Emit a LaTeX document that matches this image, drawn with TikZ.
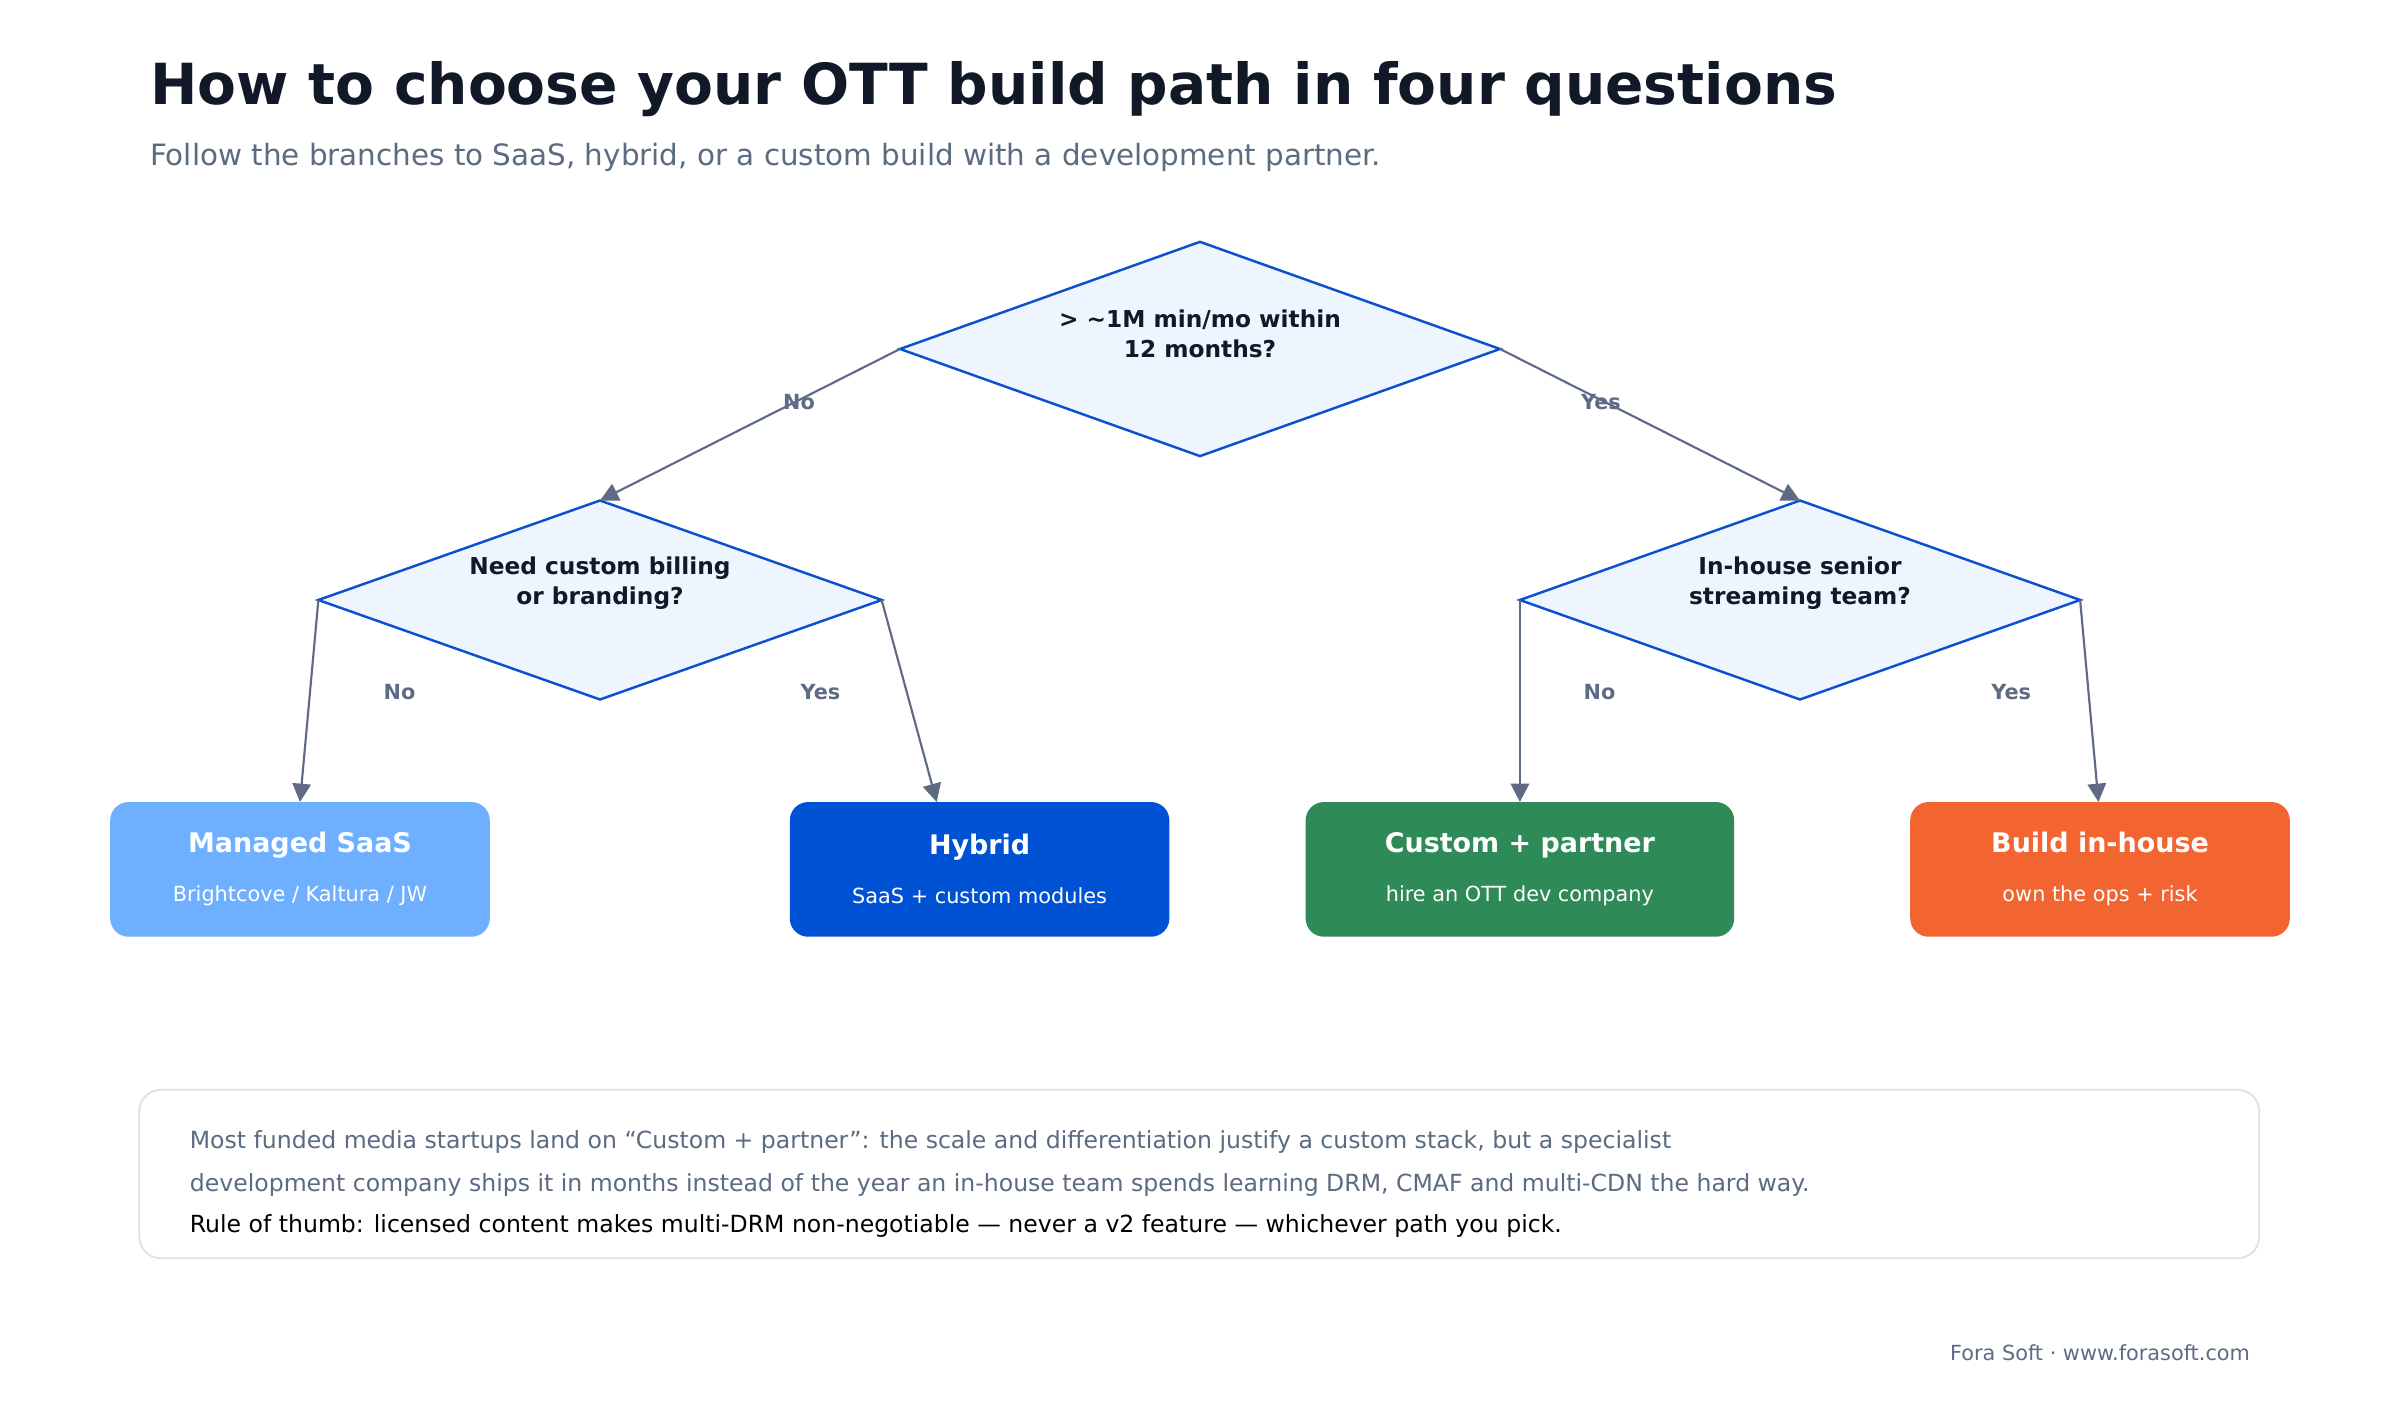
\documentclass[tikz,border=0pt]{standalone}
\usepackage{fontspec}
\setmainfont{DejaVu Sans}
\usetikzlibrary{arrows.meta}
\definecolor{ttl}{HTML}{111827}
\definecolor{sub}{HTML}{5B6B82}
\definecolor{dfill}{HTML}{EEF5FF}
\definecolor{dline}{HTML}{0B50D0}
\definecolor{arr}{HTML}{5F6B85}
\definecolor{cA}{HTML}{6EB0FF}
\definecolor{cB}{HTML}{0052D4}
\definecolor{cC}{HTML}{2E8B57}
\definecolor{cD}{HTML}{F26531}
\definecolor{nb}{HTML}{DDE1EA}
\begin{document}
\begin{tikzpicture}[x=0.5pt,y=-0.5pt,
  dia/.style={fill=dfill,draw=dline,line width=0.8pt},
  qtext/.style={font=\bfseries\fontsize{7.6}{9.6}\selectfont,text=ttl,align=center},
  box/.style={rounded corners=6pt,minimum height=44pt,inner sep=0pt,text=white,align=center},
  conn/.style={draw=arr,line width=0.7pt,-{Triangle[length=6pt,width=6pt]}},
  lab/.style={font=\bfseries\fontsize{6.8}{8}\selectfont,text=arr}]
\useasboundingbox (0,0) rectangle (1568,915);
\fill[white] (0,0) rectangle (1568,915);
\node[anchor=west,text=ttl,font=\bfseries\fontsize{18.5}{22}\selectfont] (title) at (91,58) {How to choose your OTT build path in four questions};
\node[anchor=west,text=sub,font=\fontsize{9.6}{12}\selectfont] (subtitle) at (91,103) {Follow the branches to SaaS, hybrid, or a custom build with a development partner.};
% diamond 1
\coordinate (d1n) at (784,158); \coordinate (d1s) at (784,298);
\coordinate (d1w) at (588,228); \coordinate (d1e) at (980,228);
\draw[dia] (d1n)--(d1e)--(d1s)--(d1w)--cycle;
\node[qtext] (q1) at (784,218) {> \textasciitilde1M min/mo within\\12 months?};
% diamond 2
\coordinate (d2n) at (392,327); \coordinate (d2s) at (392,457);
\coordinate (d2w) at (208,392); \coordinate (d2e) at (576,392);
\draw[dia] (d2n)--(d2e)--(d2s)--(d2w)--cycle;
\node[qtext] (q2) at (392,381) {Need custom billing\\or branding?};
% diamond 3
\coordinate (d3n) at (1176,327); \coordinate (d3s) at (1176,457);
\coordinate (d3w) at (993,392); \coordinate (d3e) at (1359,392);
\draw[dia] (d3n)--(d3e)--(d3s)--(d3w)--cycle;
\node[qtext] (q3) at (1176,381) {In-house senior\\streaming team?};
% boxes
\newcommand{\boxcontent}[2]{{\bfseries\fontsize{8.8}{10}\selectfont #1}\\[4pt]{\fontsize{6.8}{8}\selectfont #2}}
\node[box,fill=cA,minimum width=124pt] (b1) at (196,568) {\boxcontent{Managed SaaS}{Brightcove / Kaltura / JW}};
\node[box,fill=cB,minimum width=124pt] (b2) at (640,568) {\boxcontent{Hybrid}{SaaS + custom modules}};
\node[box,fill=cC,minimum width=140pt] (b3) at (993,568) {\boxcontent{Custom + partner}{hire an OTT dev company}};
\node[box,fill=cD,minimum width=124pt] (b4) at (1372,568) {\boxcontent{Build in-house}{own the ops + risk}};
\coordinate (t1) at (196,524); \coordinate (t2) at (612,524);
\coordinate (t3) at (993,524); \coordinate (t4) at (1371,524);
% connectors
\draw[conn] (d1w) -- (d2n);
\draw[conn] (d1e) -- (d3n);
\draw[conn] (d2w) -- (t1);
\draw[conn] (d2e) -- (t2);
\draw[conn] (d3w) -- (t3);
\draw[conn] (d3e) -- (t4);
\node[lab] (l1) at (522,263) {No};
\node[lab] (l2) at (1046,263) {Yes};
\node[lab] (l3) at (261,452) {No};
\node[lab] (l4) at (536,452) {Yes};
\node[lab] (l5) at (1045,452) {No};
\node[lab] (l6) at (1314,452) {Yes};
% note
\draw[nb,line width=0.6pt,rounded corners=7pt] (91,712) rectangle (1476,822);
\node[anchor=west,text=sub,font=\fontsize{7.7}{9}\selectfont] (n1) at (117,746) {Most funded media startups land on “Custom + partner”: the scale and differentiation justify a custom stack, but a specialist};
\node[anchor=west,text=sub,font=\fontsize{7.7}{9}\selectfont] (n2) at (117,774) {development company ships it in months instead of the year an in-house team spends learning DRM, CMAF and multi-CDN the hard way.};
\node[anchor=west,text=black,font=\fontsize{7.7}{9}\selectfont] (n3) at (117,801) {Rule of thumb: licensed content makes multi-DRM non-negotiable — never a v2 feature — whichever path you pick.};
\node[anchor=east,text=arr,font=\fontsize{6.8}{8}\selectfont] (foot) at (1477,884) {Fora Soft · www.forasoft.com};
\end{tikzpicture}
\end{document}
